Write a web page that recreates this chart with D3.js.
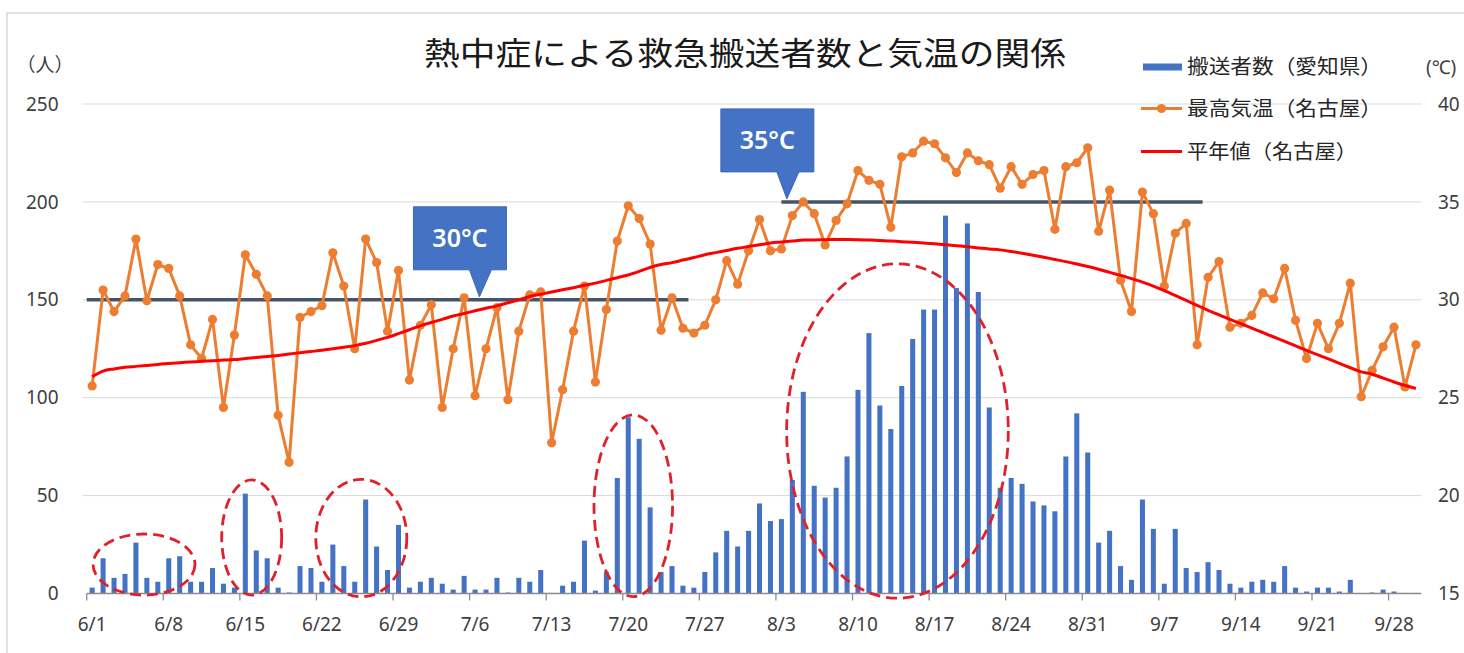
<!DOCTYPE html>
<html><head><meta charset="utf-8">
<script src="https://cdn.jsdelivr.net/npm/d3@7"></script>
<style>body{margin:0;background:#fff;} svg{display:block;}</style>
</head><body>
<svg id="c" width="1464" height="653"></svg>
<script>
// ---------- DATA ----------
const months = [6, 7, 8, 9];
const monthDays = [30, 31, 31, 30];
const categories = [];
months.forEach((m, k) => { for (let d = 1; d <= monthDays[k]; d++) categories.push(m + "/" + d); });

// 搬送者数（愛知県） daily
const transported = [
  3, 18, 8, 10, 26, 8, 6, 18, 19, 6, 6, 13, 5, 3, 51, 22, 18, 3, 0.5, 14, 13, 6, 25, 14, 6, 48, 24, 12, 35, 3,
  6, 8, 5, 2, 9, 2, 2, 8, 0.5, 8, 6, 12, 0.3, 4, 6, 27, 1.5, 11, 59, 90, 79, 44, 11, 14, 4, 3, 11, 21, 32, 24, 32,
  46, 37, 38, 58, 103, 55, 49, 54, 70, 104, 133, 96, 84, 106, 130, 145, 145, 193, 156, 189, 154, 95, 54, 59, 56, 47, 45, 42, 70, 92, 72,
  26, 32, 14, 7, 48, 33, 5, 33, 13, 11, 16, 12, 5, 3, 6, 7, 6, 14, 3, 1, 3, 3, 1, 7, 0, 0.5, 2, 1, 0.3, 0.3
];
// 最高気温（名古屋） daily, °C
const maxTemp = [
  25.6, 30.5, 29.4, 30.2, 33.1, 29.95, 31.8, 31.6, 30.2, 27.7, 27.0, 29.0, 24.5, 28.2, 32.3, 31.3, 30.2, 24.1, 21.7, 29.1, 29.4, 29.7, 32.4, 30.7, 27.5, 33.1, 31.9, 28.4, 31.5, 25.9,
  28.7, 29.75, 24.5, 27.5, 30.1, 25.1, 27.5, 29.6, 24.9, 28.4, 30.25, 30.4, 22.7, 25.4, 28.4, 30.7, 25.8, 29.5, 33.0, 34.8, 34.15, 32.85, 28.45, 30.1, 28.55, 28.3, 28.7, 30.0, 32.0, 30.8, 32.5,
  34.1, 32.5, 32.6, 34.3, 35.0, 34.4, 32.8, 34.05, 34.9, 36.6, 36.1, 35.9, 33.7, 37.3, 37.5, 38.1, 37.97, 37.25, 36.5, 37.5, 37.1, 36.9, 35.7, 36.8, 35.9, 36.4, 36.6, 33.6, 36.8, 37.0, 37.76,
  33.5, 35.6, 31.0, 29.4, 35.5, 34.4, 30.7, 33.4, 33.9, 27.7, 31.15, 31.95, 28.6, 28.8, 29.2, 30.35, 30.05, 31.6, 28.95, 27.0, 28.8, 27.5, 28.8, 30.85, 25.05, 26.4, 27.6, 28.6, 25.55, 27.7
];
// 平年値（名古屋） daily, °C
const normalTemp = [
  26.07, 26.36, 26.47, 26.55, 26.6, 26.65, 26.7, 26.75, 26.79, 26.82, 26.86, 26.89, 26.92, 26.95, 27.0, 27.05, 27.1, 27.16, 27.23, 27.3, 27.36, 27.42, 27.5, 27.58, 27.66, 27.78, 27.93, 28.08, 28.27, 28.47,
  28.67, 28.84, 29.0, 29.17, 29.3, 29.44, 29.57, 29.69, 29.85, 30.0, 30.17, 30.28, 30.4, 30.51, 30.62, 30.74, 30.85, 30.99, 31.13, 31.27, 31.45, 31.65, 31.8, 31.9, 32.03, 32.16, 32.3, 32.41, 32.52, 32.63, 32.72,
  32.81, 32.9, 32.95, 33.0, 33.05, 33.06, 33.07, 33.08, 33.08, 33.07, 33.05, 33.03, 33.0, 32.97, 32.94, 32.9, 32.86, 32.81, 32.76, 32.71, 32.65, 32.6, 32.55, 32.47, 32.38, 32.28, 32.17, 32.06, 31.95, 31.83, 31.7,
  31.56, 31.4, 31.25, 31.08, 30.9, 30.7, 30.47, 30.22, 29.97, 29.72, 29.46, 29.23, 29.0, 28.78, 28.55, 28.33, 28.1, 27.88, 27.65, 27.42, 27.2, 26.98, 26.75, 26.53, 26.32, 26.2, 26.0, 25.8, 25.62, 25.47
];
const xTickLabels = ["6/1","6/8","6/15","6/22","6/29","7/6","7/13","7/20","7/27","8/3","8/10","8/17","8/24","8/31","9/7","9/14","9/21","9/28"];
const leftTicks = [0, 50, 100, 150, 200, 250];
const rightTicks = [15, 20, 25, 30, 35, 40];
const seriesNames = ["搬送者数（愛知県）", "最高気温（名古屋）", "平年値（名古屋）"];
const titleText = "熱中症による救急搬送者数と気温の関係";
const leftUnit = "（人）";
const rightUnit = "(℃)";
// reference lines at 30°C / 35°C with callouts
const refTemps = [30, 35];
const refFrom = ["6/1", "8/3"];
const refTo = ["7/25", "9/10"];
const refLabels = ["30°C", "35°C"];
// highlighted periods (dashed ellipses): centre day index, half-width in days, centre value, half-height in persons
const hlDay = [4.74, 14.58, 24.6, 49.46, 73.61];
const hlDayHalf = [4.66, 2.74, 4.16, 3.59, 10.13];
const hlVal = [14.8, 28.6, 28.3, 44.8, 83.0];
const hlValHalf = [15.6, 29.4, 30.0, 46.4, 85.4];

// ---------- CHART ----------
const svg = d3.select("#c");
const FONT = "'Noto Sans CJK JP', 'Noto Sans', sans-serif";
const NUMFONT = "'Noto Sans', 'Open Sans', sans-serif";
const plotL = 86.7, plotR = 1421.4, plotB = 593.5, plotT = 104;

const x = d3.scaleBand().domain(categories).range([plotL, plotR]).paddingInner(0.54).paddingOuter(0.27);
const step = x.step();
const xc = c => x(c) + x.bandwidth() / 2;
const xAt = fi => x(categories[0]) + x.bandwidth() / 2 + fi * step;
const yL = d3.scaleLinear().domain([0, 250]).range([plotB, plotT]);
const yR = d3.scaleLinear().domain([15, 40]).range([plotB, plotT]);

// border
svg.append("rect").attr("x", 7).attr("y", 13).attr("width", 1480).attr("height", 680)
  .attr("fill", "#fff").attr("stroke", "#d9d9d9").attr("stroke-width", 1.5);

// gridlines
svg.append("g").selectAll("line").data(leftTicks.filter(d => d > 0)).join("line")
  .attr("x1", plotL - 4).attr("x2", plotR).attr("y1", d => yL(d)).attr("y2", d => yL(d))
  .attr("stroke", "#d9d9d9").attr("stroke-width", 1);

// left axis labels
svg.append("g").selectAll("text").data(leftTicks).join("text")
  .attr("x", 58.5).attr("y", d => yL(d)).attr("dy", "0.35em").attr("text-anchor", "end")
  .attr("font-family", NUMFONT).attr("font-size", 19).attr("fill", "#404040").text(d => d);
// right axis labels
svg.append("g").selectAll("text").data(rightTicks).join("text")
  .attr("x", 1438).attr("y", d => yR(d)).attr("dy", "0.35em").attr("text-anchor", "start")
  .attr("font-family", NUMFONT).attr("font-size", 19).attr("fill", "#404040").text(d => d);
svg.append("text").attr("x", 45).attr("y", 65).attr("dy", "0.35em").attr("text-anchor", "middle")
  .attr("font-family", FONT).attr("font-size", 19).attr("fill", "#404040").text(leftUnit);
svg.append("text").attr("x", 1426).attr("y", 67).attr("dy", "0.35em").attr("text-anchor", "start")
  .attr("font-family", NUMFONT).attr("font-size", 19).attr("fill", "#404040").text(rightUnit);

// bars
svg.append("g").selectAll("rect").data(categories).join("rect")
  .attr("x", d => x(d)).attr("width", x.bandwidth())
  .attr("y", (d, i) => yL(transported[i])).attr("height", (d, i) => plotB - yL(transported[i]))
  .attr("fill", "#4472c4");

// x axis
svg.append("line").attr("x1", plotL).attr("x2", plotR).attr("y1", plotB).attr("y2", plotB)
  .attr("stroke", "#8c8c8c").attr("stroke-width", 1.3);
svg.append("g").selectAll("line").data(xTickLabels).join("line")
  .attr("x1", d => x(d) - step * 0.27).attr("x2", d => x(d) - step * 0.27)
  .attr("y1", plotB).attr("y2", plotB + 7).attr("stroke", "#8c8c8c").attr("stroke-width", 1.3);
svg.append("g").selectAll("text").data(xTickLabels).join("text")
  .attr("x", d => xc(d)).attr("y", 624).attr("dy", "0.35em").attr("text-anchor", "middle")
  .attr("font-family", NUMFONT).attr("font-size", 19).attr("fill", "#404040").text(d => d);

// dashed ellipses
svg.append("g").selectAll("ellipse").data(hlDay).join("ellipse")
  .attr("cx", (d) => xAt(d)).attr("rx", (d, i) => hlDayHalf[i] * step)
  .attr("cy", (d, i) => yL(hlVal[i])).attr("ry", (d, i) => yL(0) - yL(hlValHalf[i]))
  .attr("fill", "none").attr("stroke", "#e0202a").attr("stroke-width", 2.8)
  .attr("stroke-dasharray", "11,6");

// reference lines
svg.append("g").selectAll("line").data(refTemps).join("line")
  .attr("x1", (d, i) => i === 0 ? x(refFrom[i]) - step * 0.27 : xc(refFrom[i]))
  .attr("x2", (d, i) => x(refTo[i]) + x.bandwidth() + step * 0.27)
  .attr("y1", d => yR(d)).attr("y2", d => yR(d))
  .attr("stroke", "#44546a").attr("stroke-width", 3.5);

// max temperature line
const lineMax = d3.line().x((d, i) => xc(categories[i])).y(d => yR(d));
svg.append("path").datum(maxTemp).attr("d", lineMax).attr("fill", "none")
  .attr("stroke", "#ed7d31").attr("stroke-width", 3).attr("stroke-linejoin", "round");
svg.append("g").selectAll("circle").data(maxTemp).join("circle")
  .attr("cx", (d, i) => xc(categories[i])).attr("cy", d => yR(d)).attr("r", 4.6).attr("fill", "#ed7d31");

// normal line
const lineNorm = d3.line().x((d, i) => xc(categories[i])).y(d => yR(d)).curve(d3.curveMonotoneX);
svg.append("path").datum(normalTemp).attr("d", lineNorm).attr("fill", "none")
  .attr("stroke", "#ff0000").attr("stroke-width", 3);

// callouts
const calloutAnchor = [35.4, 63.5];
refTemps.forEach((t, i) => {
  const tx = xAt(calloutAnchor[i]), ty = yR(t) - 3;
  const g = svg.append("g");
  g.append("path")
    .attr("d", `M${tx - 66},${ty - 90} H${tx + 27} V${ty - 27} H${tx + 12} L${tx},${ty} L${tx - 10},${ty - 27} H${tx - 66} Z`)
    .attr("fill", "#4472c4").attr("stroke", "#3d67b3").attr("stroke-width", 1);
  g.append("text").attr("x", tx - 19.5).attr("y", ty - 58.5).attr("dy", "0.36em").attr("text-anchor", "middle")
    .attr("font-family", NUMFONT).attr("font-size", 25).attr("font-weight", 600).attr("fill", "#fff").text(refLabels[i]);
});

// title
svg.append("text").attr("x", 745).attr("y", 53).attr("dy", "0.36em").attr("text-anchor", "middle")
  .attr("font-family", FONT).attr("font-size", 32).attr("font-weight", 400).attr("fill", "#1a1a1a")
  .attr("textLength", 642).attr("lengthAdjust", "spacingAndGlyphs").text(titleText);

// legend
const lg = svg.append("g");
const legY = [67, 108.5, 151.5];
const legW = [195, 195, 170];
lg.append("rect").attr("x", 1143).attr("y", legY[0] - 3.5).attr("width", 39).attr("height", 7).attr("fill", "#4472c4");
lg.append("line").attr("x1", 1141).attr("x2", 1182).attr("y1", legY[1]).attr("y2", legY[1]).attr("stroke", "#ed7d31").attr("stroke-width", 3);
lg.append("circle").attr("cx", 1161.5).attr("cy", legY[1]).attr("r", 4.6).attr("fill", "#ed7d31");
lg.append("line").attr("x1", 1141).attr("x2", 1182).attr("y1", legY[2]).attr("y2", legY[2]).attr("stroke", "#ff0000").attr("stroke-width", 3);
lg.selectAll("text").data(seriesNames).join("text")
  .attr("x", 1187).attr("y", (d, i) => legY[i]).attr("dy", "0.36em")
  .attr("font-family", FONT).attr("font-size", 20).attr("fill", "#262626")
  .attr("textLength", (d, i) => legW[i]).attr("lengthAdjust", "spacingAndGlyphs").text(d => d);
</script>
</body></html>
